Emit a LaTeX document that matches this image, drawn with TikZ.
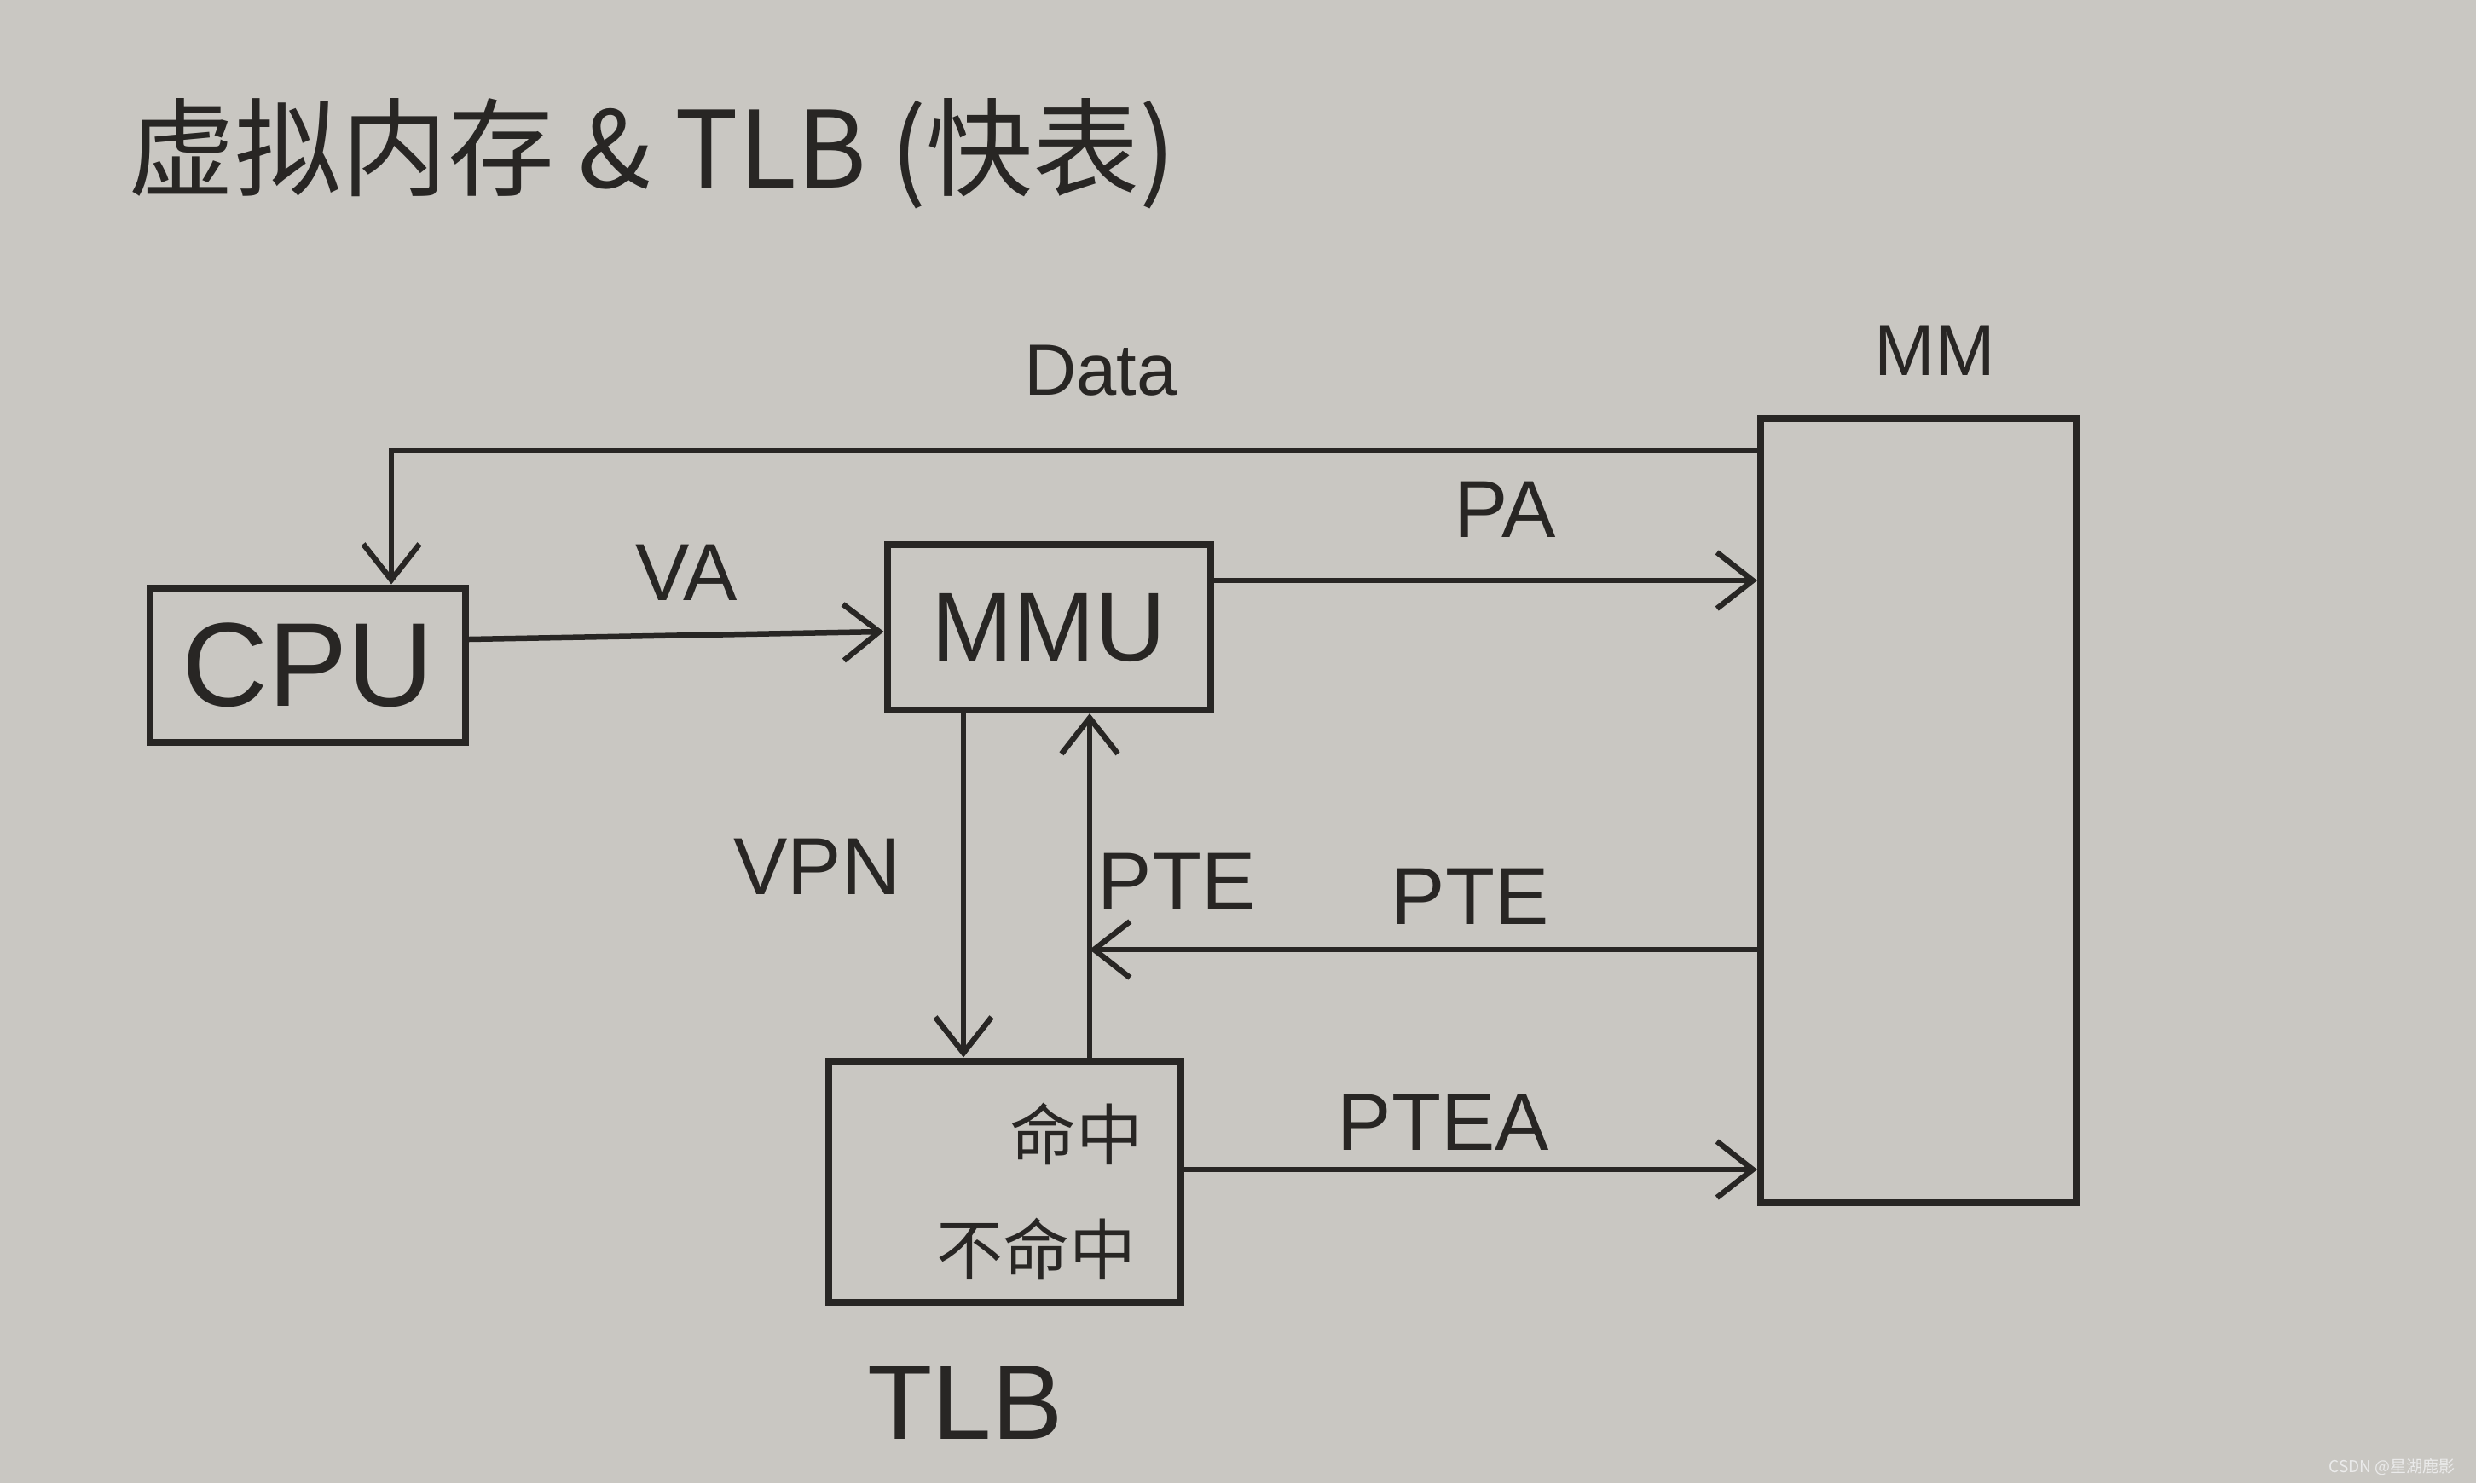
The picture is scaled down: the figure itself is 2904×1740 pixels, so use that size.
\documentclass[tikz,border=0pt]{standalone}
\usepackage{fontspec}
\setmainfont{Liberation Sans}
\newfontfamily\cjk{Noto Sans CJK SC}
\usetikzlibrary{arrows.meta}
\definecolor{paper}{RGB}{201,199,194}
\definecolor{ink}{RGB}{40,38,36}
\definecolor{wm}{RGB}{235,235,235}
\tikzset{
  box/.style={draw=ink, line width=8pt, rectangle, inner sep=0pt},
  arr/.style={draw=ink, line width=6.5pt, -{Straight Barb[length=42pt,width=66pt,line width=6.5pt]}},
  lbl/.style={text=ink, inner sep=0pt, font=\fontsize{95}{105}\selectfont},
}
\begin{document}
\begin{tikzpicture}[x=1pt,y=-1pt]
\fill[paper] (0,0) rectangle (2904,1740);
\useasboundingbox (0,0) rectangle (2904,1740);
% title
\node[text=ink, inner sep=0pt, font=\cjk\fontsize{125}{140}\selectfont] (title) at (765,180) {虚拟内存 \& TLB (快表)};
% boxes
\node[box, minimum width=370pt, minimum height=181pt, font=\fontsize{140}{150}\selectfont, text=ink] (CPU) at (361,780) {CPU};
\node[box, minimum width=379pt, minimum height=194pt, font=\fontsize{115}{125}\selectfont, text=ink] (MMU) at (1230,736) {MMU};
\node[box, minimum width=413pt, minimum height=283pt] (TLB) at (1178,1386) {};
\node[box, minimum width=370pt, minimum height=920pt] (MM) at (2250,951) {};
% texts in TLB
\node[text=ink, inner sep=0pt, font=\cjk\fontsize{78}{86}\selectfont] (hit) at (1262,1330) {命中};
\node[text=ink, inner sep=0pt, font=\cjk\fontsize{78}{86}\selectfont] (miss) at (1215,1465) {不命中};
% labels
\node[lbl, font=\fontsize{85}{95}\selectfont] (ldata) at (1291,435) {Data};
\node[lbl, font=\fontsize{85}{95}\selectfont] (lmm) at (2269,411) {MM};
\node[lbl] (lva) at (805,672) {VA};
\node[lbl] (lpa) at (1765,598) {PA};
\node[lbl] (lvpn) at (958,1017) {VPN};
\node[lbl] (lpte1) at (1380,1034) {PTE};
\node[lbl] (lpte2) at (1724,1052) {PTE};
\node[lbl] (lptea) at (1693,1317) {PTEA};
\node[lbl, font=\fontsize{125}{135}\selectfont] (ltlb) at (1132,1645) {TLB};
% connectors
\coordinate (dturn) at (459,528);
\draw[arr] (MM.west |- dturn) -- (dturn) -- (dturn |- CPU.north);
\draw[arr] ([yshift=30pt]CPU.east) -- ([yshift=-5pt]MMU.west);
\coordinate (pastart) at ([yshift=55pt]MMU.east);
\draw[arr] (pastart) -- (MM.west |- pastart);
\coordinate (vpnstart) at ([xshift=-100pt]MMU.south);
\draw[arr] (vpnstart) -- (vpnstart |- TLB.north);
\coordinate (pteup) at ([xshift=100pt]TLB.north);
\draw[arr] (pteup) -- (pteup |- MMU.south);
\coordinate (ptej) at (1278,1114);
\draw[arr] (MM.west |- ptej) -- (ptej);
\coordinate (pteastart) at ([yshift=14pt]TLB.east);
\draw[arr] (pteastart) -- (MM.west |- pteastart);
% watermark
\node[text=wm, inner sep=0pt, anchor=east, font=\cjk\fontsize{19}{22}\selectfont] (wmk) at (2880,1721) {CSDN @星湖鹿影};
\end{tikzpicture}
\end{document}
